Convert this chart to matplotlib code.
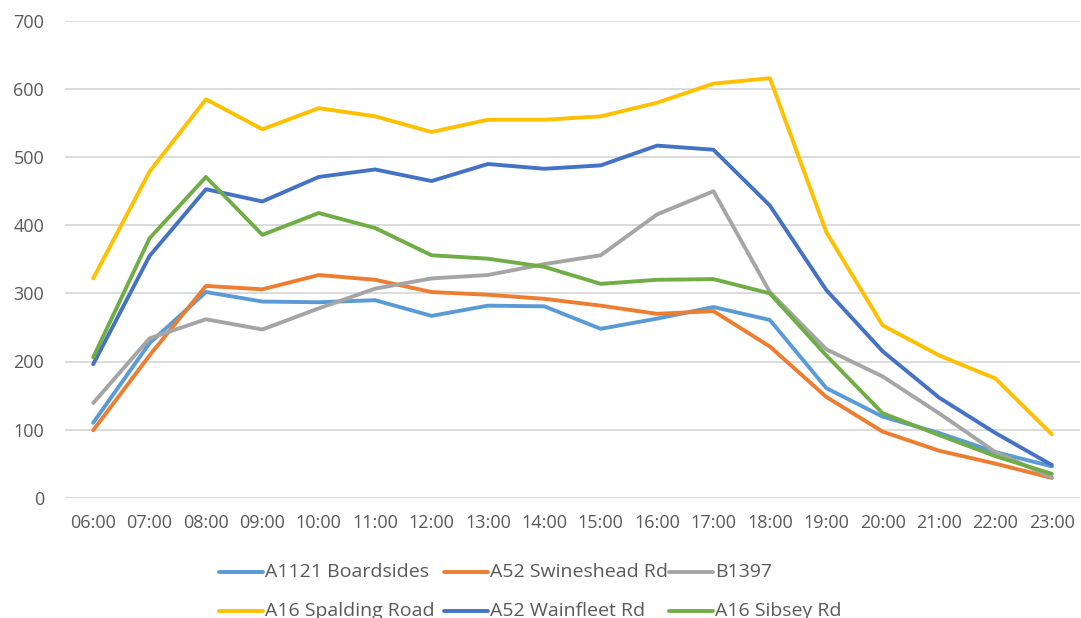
import matplotlib
matplotlib.use("Agg")
import matplotlib.pyplot as plt
from matplotlib.lines import Line2D
import numpy as np

hours = ["06:00", "07:00", "08:00", "09:00", "10:00", "11:00", "12:00", "13:00", "14:00",
         "15:00", "16:00", "17:00", "18:00", "19:00", "20:00", "21:00", "22:00", "23:00"]

a1121_boardsides = [110, 227, 302, 288, 287, 290, 267, 282, 281, 248, 263, 280, 261, 161, 119, 95, 67, 46]
a52_swineshead = [99, 209, 311, 306, 327, 320, 302, 298, 292, 282, 270, 274, 222, 148, 97, 69, 50, 29]
b1397 = [139, 234, 262, 247, 278, 307, 322, 327, 343, 356, 416, 450, 302, 218, 178, 124, 67, 30]
a16_spalding = [322, 479, 585, 541, 572, 560, 537, 555, 555, 560, 580, 608, 616, 390, 253, 209, 175, 93]
a52_wainfleet = [196, 355, 453, 435, 471, 482, 465, 490, 483, 488, 517, 511, 429, 305, 215, 147, 95, 48]
a16_sibsey = [206, 381, 471, 386, 418, 396, 356, 351, 339, 314, 320, 321, 300, 209, 124, 92, 61, 35]

series_names = ["A1121 Boardsides", "A52 Swineshead Rd", "B1397",
                "A16 Spalding Road", "A52 Wainfleet Rd", "A16 Sibsey Rd"]
series_values = [a1121_boardsides, a52_swineshead, b1397, a16_spalding, a52_wainfleet, a16_sibsey]
colors = ["#5B9BD5", "#ED7D31", "#A5A5A5", "#FFC000", "#4472C4", "#70AD47"]

plt.rcParams['font.family'] = ['Open Sans', 'DejaVu Sans']

W, H = 1081, 618
fig = plt.figure(figsize=(W / 100, H / 100), dpi=100)
ax = fig.add_axes([65 / W, (H - 497.7) / H, (1080 - 65) / W, (497.7 - 21) / H])

x = np.arange(len(hours))
for name, vals, c in zip(series_names, series_values, colors):
    ax.plot(x, vals, color=c, lw=2.8, label=name, solid_joinstyle='round',
            solid_capstyle='round', zorder=3)

ax.set_xlim(-0.5, len(hours) - 0.5)
ax.set_ylim(0, 700)
ax.set_yticks(np.arange(0, 701, 100))
ax.set_xticks(x)
ax.set_xticklabels(hours)
ax.grid(axis='y', color='#D9D9D9', lw=1.3, zorder=0)
ax.set_axisbelow(True)
for s in ax.spines.values():
    s.set_visible(False)
ax.tick_params(axis='both', length=0, labelsize=13, colors='#595959')
ax.tick_params(axis='y', pad=15)
ax.tick_params(axis='x', pad=12)

# legend laid out like Excel: 3 equal columns, 2 rows (second row cut by the figure edge)
col_x = [219, 444, 669]
row_y = [571.7, 610.7]
for i, (name, c) in enumerate(zip(series_names, colors)):
    cx = col_x[i % 3]
    cy = row_y[i // 3]
    fig.add_artist(Line2D([cx / W, (cx + 44) / W], [1 - cy / H, 1 - cy / H],
                          color=c, lw=2.8, solid_capstyle='round'))
    fig.text((cx + 46) / W, 1 - cy / H, name, fontsize=14, color='#595959',
             va='center', ha='left')

fig.savefig("out.png", dpi=100)
